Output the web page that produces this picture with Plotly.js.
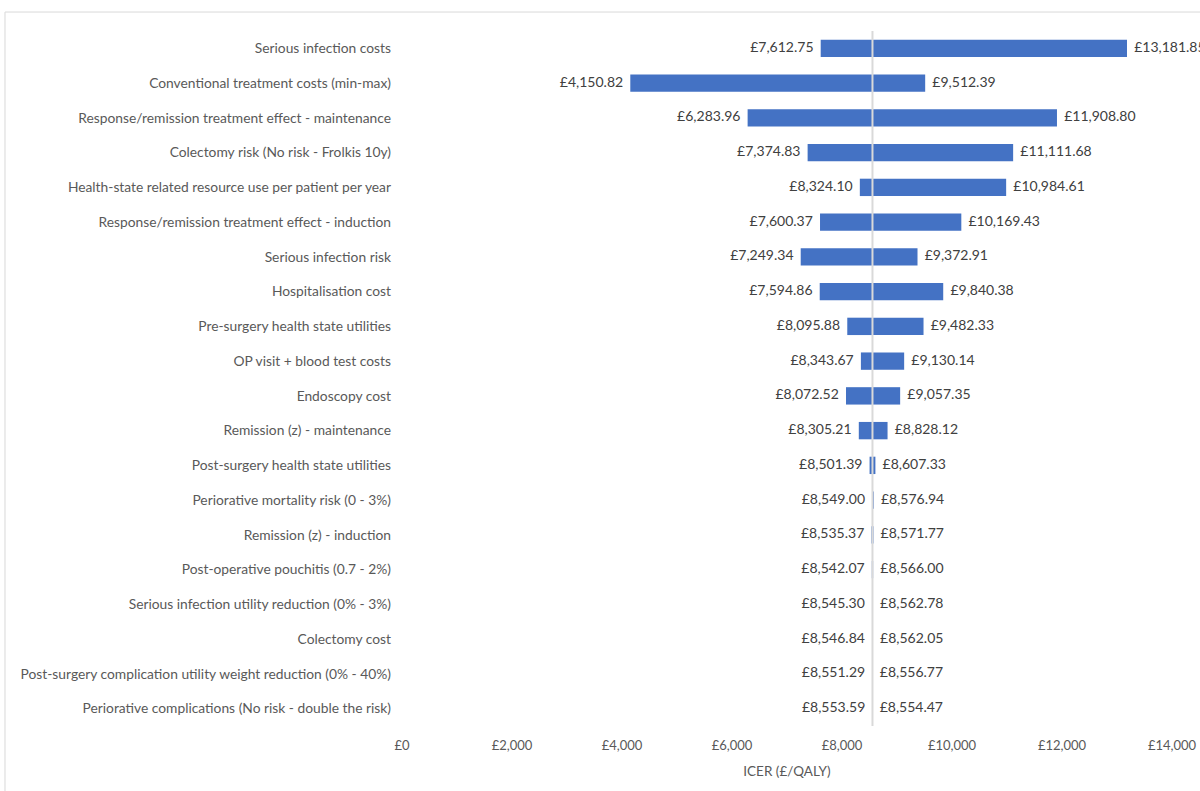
<!DOCTYPE html>
<html>
<head>
<meta charset="utf-8">
<script src="https://cdn.plot.ly/plotly-3.0.1.min.js"></script>
<style>html,body{margin:0;padding:0;background:#fff;}#chart{width:1200px;height:791px;}</style>
</head>
<body>
<div id="chart"></div>
<script>
const categories = [
  "Serious infection costs",
  "Conventional treatment costs (min-max)",
  "Response/remission treatment effect - maintenance",
  "Colectomy risk (No risk - Frolkis 10y)",
  "Health-state related resource use per patient per year",
  "Response/remission treatment effect - induction",
  "Serious infection risk",
  "Hospitalisation cost",
  "Pre-surgery health state utilities",
  "OP visit + blood test costs",
  "Endoscopy cost",
  "Remission (z) - maintenance",
  "Post-surgery health state utilities",
  "Periorative mortality risk (0 - 3%)",
  "Remission (z) - induction",
  "Post-operative pouchitis (0.7 - 2%)",
  "Serious infection utility reduction (0% - 3%)",
  "Colectomy cost",
  "Post-surgery complication utility weight reduction (0% - 40%)",
  "Periorative complications (No risk - double the risk)"
];
const lowValues = [7612.75, 4150.82, 6283.96, 7374.83, 8324.10, 7600.37, 7249.34, 7594.86, 8095.88, 8343.67,
  8072.52, 8305.21, 8501.39, 8549.00, 8535.37, 8542.07, 8545.30, 8546.84, 8551.29, 8553.59];
const highValues = [13181.85, 9512.39, 11908.80, 11111.68, 10984.61, 10169.43, 9372.91, 9840.38, 9482.33, 9130.14,
  9057.35, 8828.12, 8607.33, 8576.94, 8571.77, 8566.00, 8562.78, 8562.05, 8556.77, 8554.47];
const baseCase = 8554;
const xTicks = [0, 2000, 4000, 6000, 8000, 10000, 12000, 14000];

const fmt = v => "£" + v.toLocaleString("en-GB", {minimumFractionDigits: 2, maximumFractionDigits: 2});
const pad = "\u00a0\u00a0";
const barColor = "#4472C4";
const fontFam = "Lato, 'Open Sans', sans-serif";
const textFont = {family: fontFam, size: 14, color: "#404040"};

const traces = [
  {
    type: "bar", orientation: "h", y: categories,
    x: lowValues.map(v => v - baseCase), base: baseCase,
    marker: {color: barColor}, hoverinfo: "skip", showlegend: false
  },
  {
    type: "bar", orientation: "h", y: categories,
    x: highValues.map(v => v - baseCase), base: baseCase,
    marker: {color: barColor}, hoverinfo: "skip", showlegend: false
  },
  {
    type: "scatter", mode: "text", y: categories, x: lowValues,
    text: lowValues.map(v => fmt(v) + pad), textposition: "middle left",
    textfont: textFont, cliponaxis: false, showlegend: false, hoverinfo: "skip"
  },
  {
    type: "scatter", mode: "text", y: categories, x: highValues,
    text: highValues.map(v => pad + fmt(v)), textposition: "middle right",
    textfont: textFont, cliponaxis: false, showlegend: false, hoverinfo: "skip"
  }
];

const layout = {
  width: 1200, height: 791,
  margin: {l: 402, r: 28, t: 31, b: 65},
  paper_bgcolor: "#ffffff", plot_bgcolor: "#ffffff",
  barmode: "overlay", bargap: 0.5,
  font: {family: fontFam, color: "#595959", size: 13},
  xaxis: {
    range: [0, 14000], tickvals: xTicks,
    ticktext: xTicks.map(v => "£" + v.toLocaleString("en-GB")),
    showgrid: false, zeroline: false, showline: false, ticks: "",
    ticklabelstandoff: 10,
    tickfont: {size: 13, color: "#595959"},
    title: {text: "ICER (£/QALY)", font: {size: 13.5, color: "#595959"}, standoff: 14}
  },
  yaxis: {
    categoryorder: "array", categoryarray: categories,
    range: [categories.length - 0.5, -0.5], autorange: false,
    showgrid: false, zeroline: false, showline: false, ticks: "",
    ticklabelstandoff: 10,
    tickfont: {size: 13.8, color: "#595959"}
  },
  shapes: [
    {type: "line", xref: "x", yref: "paper", x0: baseCase, x1: baseCase, y0: 0, y1: 1,
     line: {color: "#d9d9d9", width: 2}},
    {type: "rect", xref: "paper", yref: "paper", x0: -0.5156, x1: 1.1, y0: -0.2, y1: 1.0273,
     line: {color: "#d9d9d9", width: 1}, fillcolor: "rgba(0,0,0,0)", layer: "below"}
  ]
};

Plotly.newPlot("chart", traces, layout, {displayModeBar: false, staticPlot: true});
</script>
</body>
</html>
